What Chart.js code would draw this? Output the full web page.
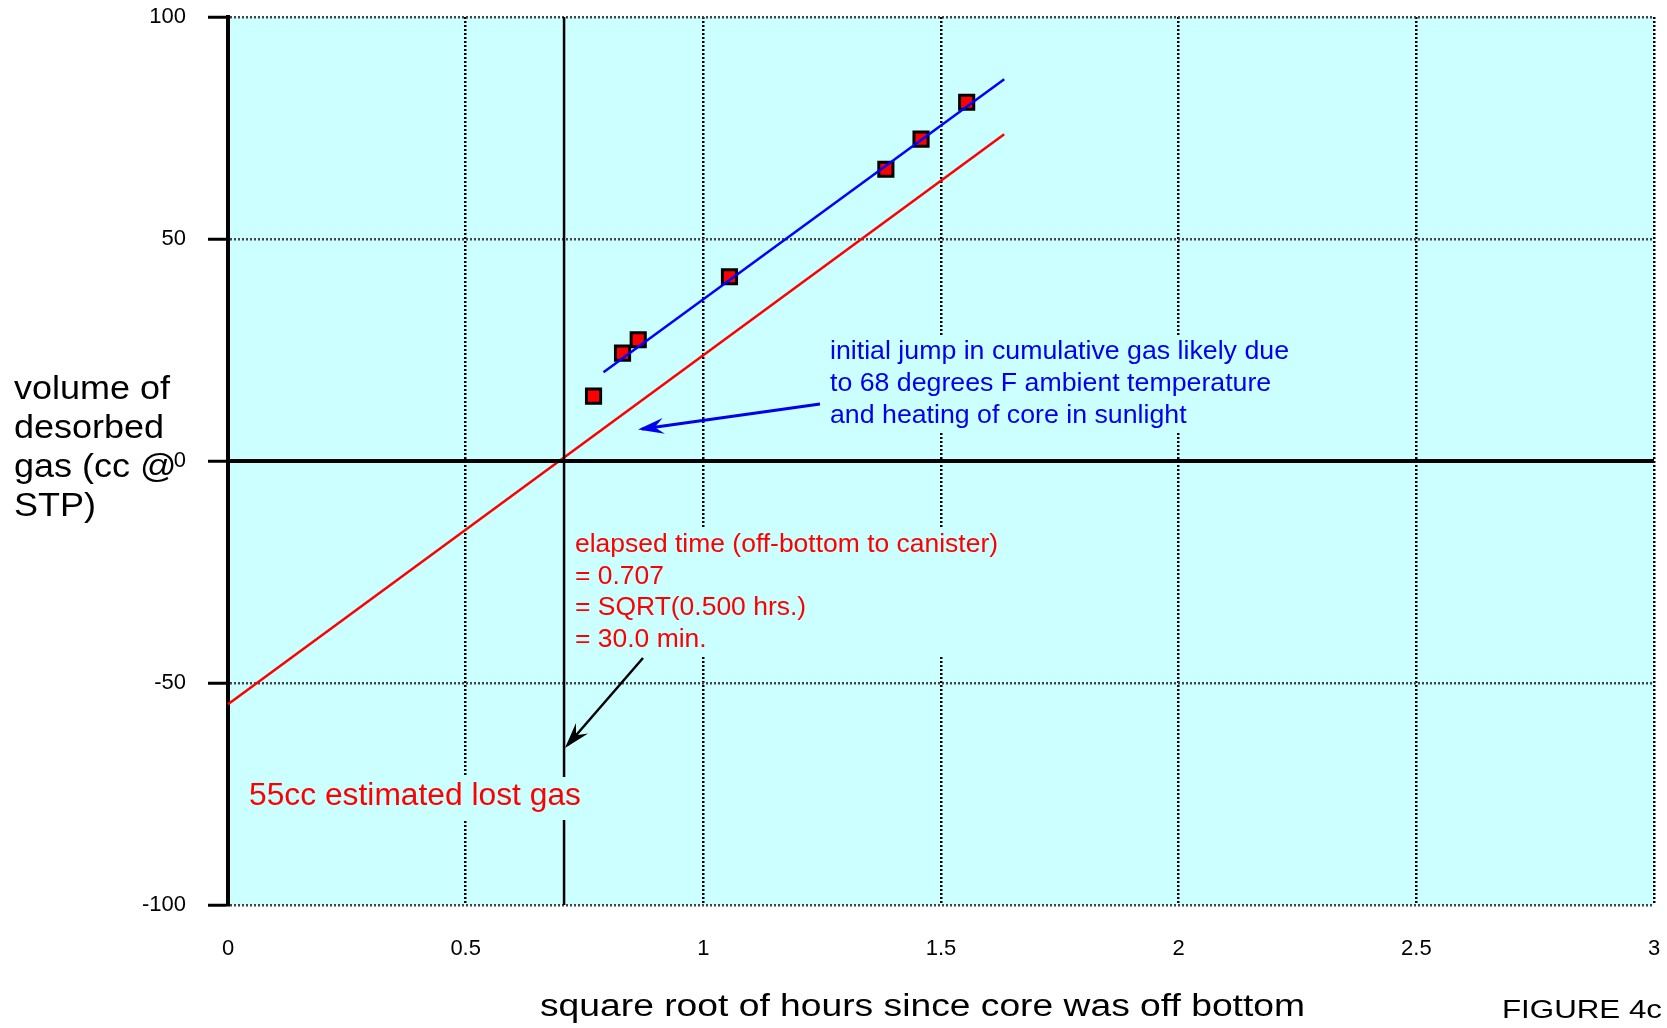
<!DOCTYPE html>
<html>
<head>
<meta charset="utf-8">
<script src="https://cdn.jsdelivr.net/npm/chart.js@4.4.0/dist/chart.umd.min.js"></script>
<style>
  html, body { margin: 0; padding: 0; background: #fff; }
  #wrap { width: 1667px; height: 1028px; }
</style>
</head>
<body>
<div id="wrap"><canvas id="chart" width="1667" height="1028"></canvas></div>
<script>
// measured desorption points
const sqrtHours = [0.769, 0.830, 0.863, 1.055, 1.384, 1.458, 1.554];
const gasVolume = [14.6, 24.3, 27.3, 41.5, 65.7, 72.5, 80.8];

// fitted line through the points
const fitX = [0.79, 1.633];
const fitY = [20.0, 86.0];

// same slope shifted back to the off-bottom time
const lostX = [0, 1.633];
const lostY = [-54.8, 73.6];

// elapsed time marker
const elapsedX = [0.707, 0.707];
const elapsedY = [-100, 100];

// zero line
const zeroX = [0, 3];
const zeroY = [0, 0];

const xTickLabels = ['0', '0.5', '1', '1.5', '2', '2.5', '3'];
const yTickLabels = ['-100', '-50', '0', '50', '100'];
const xMin = 0, xMax = 3, xStep = 0.5;
const yMin = -100, yMax = 100, yStep = 50;

const blueNote = [
  'initial jump in cumulative gas likely due',
  'to 68 degrees F ambient temperature',
  'and heating of core in sunlight'
];
const redNote = [
  'elapsed time (off-bottom to canister)',
  '= 0.707',
  '= SQRT(0.500 hrs.)',
  '= 30.0 min.'
];
const yTitle = ['volume of', 'desorbed', 'gas (cc @', 'STP)'];

const toPts = (xs, ys) => xs.map((x, i) => ({ x: x, y: ys[i] }));

const FONT = '"Liberation Sans", Arial, sans-serif';
const CYAN = '#ccffff';

function fitText(ctx, str, x, y, sx) {
  ctx.save();
  ctx.translate(x, y);
  ctx.scale(sx, 1);
  ctx.fillText(str, 0, 0);
  ctx.restore();
}

function arrow(ctx, x1, y1, x2, y2, color, lw, len, half) {
  const a = Math.atan2(y2 - y1, x2 - x1);
  const c = Math.cos(a), s = Math.sin(a);
  ctx.save();
  ctx.strokeStyle = color;
  ctx.fillStyle = color;
  ctx.lineWidth = lw;
  ctx.beginPath();
  ctx.moveTo(x1, y1);
  ctx.lineTo(x2 - 4 * c, y2 - 4 * s);
  ctx.stroke();
  ctx.beginPath();
  ctx.moveTo(x2, y2);
  ctx.lineTo(x2 - len * c + half * s, y2 - len * s - half * c);
  ctx.lineTo(x2 - 0.65 * len * c, y2 - 0.65 * len * s);
  ctx.lineTo(x2 - len * c - half * s, y2 - len * s + half * c);
  ctx.closePath();
  ctx.fill();
  ctx.restore();
}

// no extra room for overhanging tick labels
function noPad(s) {
  s.paddingTop = 0;
  s.paddingBottom = 0;
  s.paddingLeft = 0;
  s.paddingRight = 0;
}

const background = {
  id: 'background',
  beforeDraw(chart) {
    const { ctx, chartArea: a } = chart;
    ctx.save();
    ctx.fillStyle = '#fff';
    ctx.fillRect(0, 0, chart.width, chart.height);
    ctx.fillStyle = CYAN;
    ctx.fillRect(a.left, a.top, a.right - a.left, a.bottom - a.top);
    ctx.restore();
  }
};

const notes = {
  id: 'notes',
  afterDatasetsDraw(chart) {
    const ctx = chart.ctx;
    ctx.save();
    ctx.textBaseline = 'alphabetic';
    ctx.textAlign = 'left';

    // boxes behind the annotation text hide the grid
    ctx.fillStyle = CYAN;
    ctx.fillRect(823, 335, 472, 97);
    ctx.fillRect(568, 528, 434, 129);
    ctx.fillRect(243, 777, 343, 43);

    // blue note
    ctx.fillStyle = '#0000ee';
    ctx.font = '26px ' + FONT;
    let sx = 459 / ctx.measureText(blueNote[0]).width;
    blueNote.forEach((t, i) => fitText(ctx, t, 830, 359 + i * 32, sx));
    arrow(ctx, 820, 404, 638, 429.5, '#0000ee', 3, 26, 8);

    // red note
    ctx.fillStyle = '#ff0000';
    ctx.font = '26px ' + FONT;
    sx = 423 / ctx.measureText(redNote[0]).width;
    redNote.forEach((t, i) => fitText(ctx, t, 575, 552 + i * 31.7, sx));
    arrow(ctx, 643, 658, 565, 748, '#000', 2.5, 26, 8);

    ctx.font = '31px ' + FONT;
    sx = 332 / ctx.measureText('55cc estimated lost gas').width;
    fitText(ctx, '55cc estimated lost gas', 249, 805, sx);

    // axis titles
    ctx.fillStyle = '#000';
    ctx.font = '34px ' + FONT;
    sx = 156 / ctx.measureText('volume of').width;
    yTitle.forEach((t, i) => fitText(ctx, t, 14, 399 + i * 39, sx));

    ctx.font = '31px ' + FONT;
    const xt = 'square root of hours since core was off bottom';
    sx = 765 / ctx.measureText(xt).width;
    fitText(ctx, xt, 540, 1016, sx);

    ctx.font = '25px ' + FONT;
    sx = 160 / ctx.measureText('FIGURE 4c').width;
    fitText(ctx, 'FIGURE 4c', 1502, 1018, sx);
    ctx.restore();
  }
};

new Chart(document.getElementById('chart'), {
  type: 'scatter',
  data: {
    datasets: [
      {
        label: 'zero',
        data: toPts(zeroX, zeroY),
        showLine: true,
        borderColor: '#000',
        borderWidth: 4,
        pointRadius: 0
      },
      {
        label: 'elapsed',
        data: toPts(elapsedX, elapsedY),
        showLine: true,
        borderColor: '#000',
        borderWidth: 2.5,
        pointRadius: 0
      },
      {
        label: 'lost gas',
        data: toPts(lostX, lostY),
        showLine: true,
        borderColor: '#ff0000',
        borderWidth: 2.5,
        pointRadius: 0
      },
      {
        label: 'fit',
        data: toPts(fitX, fitY),
        showLine: true,
        borderColor: '#0000ff',
        borderWidth: 2.5,
        pointRadius: 0
      },
      {
        label: 'desorbed gas',
        data: toPts(sqrtHours, gasVolume),
        pointStyle: 'rect',
        pointRadius: 10,
        pointBorderWidth: 3,
        pointBackgroundColor: '#ff0000',
        pointBorderColor: '#000'
      }
    ]
  },
  options: {
    responsive: false,
    devicePixelRatio: 1,
    animation: false,
    clip: false,
    layout: { padding: { top: 17, right: 13, bottom: 0, left: 0 } },
    plugins: {
      legend: { display: false },
      tooltip: { enabled: false }
    },
    scales: {
      x: {
        type: 'linear',
        min: xMin,
        max: xMax,
        afterFit(s) { s.height = 123; noPad(s); },
        ticks: {
          stepSize: xStep,
          padding: 31,
          color: '#000',
          font: { family: FONT, size: 22 },
          callback: (v, i) => xTickLabels[i]
        },
        grid: { color: '#000', lineWidth: 2.5, drawTicks: false },
        border: { display: false, dash: [2, 2] }
      },
      y: {
        type: 'linear',
        min: yMin,
        max: yMax,
        afterFit(s) { s.width = 228; noPad(s); },
        ticks: {
          stepSize: yStep,
          padding: 22,
          color: '#000',
          font: { family: FONT, size: 22 },
          callback: (v, i) => yTickLabels[i]
        },
        grid: {
          color: '#444',
          lineWidth: 2.5,
          tickLength: 20,
          tickColor: '#000',
          tickWidth: 3,
          tickBorderDash: []
        },
        border: { display: true, color: '#000', width: 4, dash: [2, 2] }
      }
    }
  },
  plugins: [background, notes]
});
</script>
</body>
</html>
